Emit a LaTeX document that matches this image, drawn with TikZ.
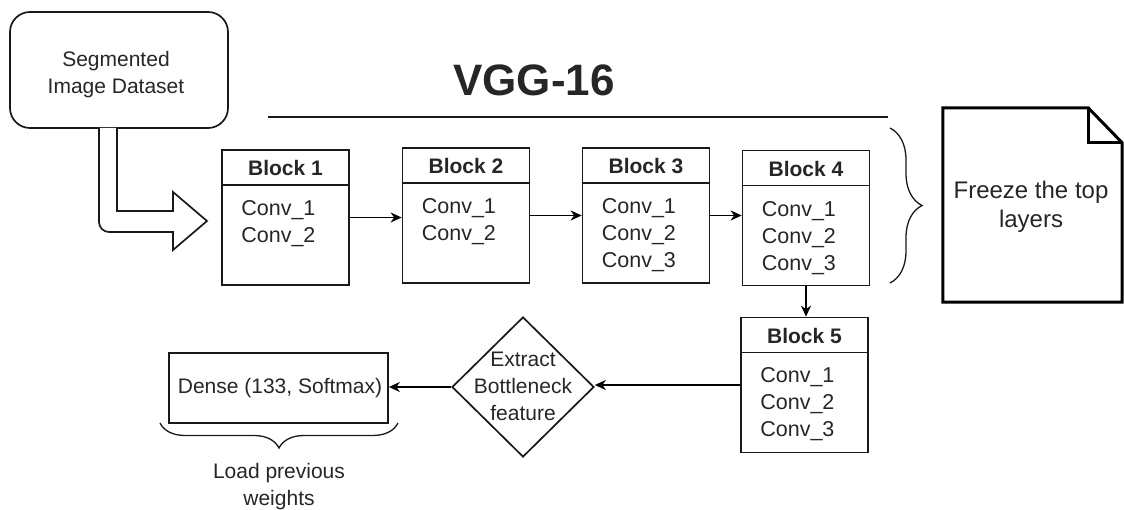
\documentclass[tikz,border=0pt]{standalone}
\usepackage{fontspec}
\setmainfont{Liberation Sans}
\usetikzlibrary{shapes.geometric,arrows.meta,decorations.pathreplacing,calc}

\tikzset{
  every node/.style={text=black!85},
  boxline/.style={draw=black!90, line width=1.7pt},
  blk/.style={boxline, rectangle, inner sep=0pt, minimum width=127pt, minimum height=135pt},
  blktitle/.style={font=\bfseries\fontsize{21}{25}\selectfont, inner sep=0pt},
  conv/.style={font=\fontsize{21.5}{25}\selectfont, inner sep=0pt, anchor=west},
  body/.style={font=\fontsize{21}{27}\selectfont, align=center, inner sep=0pt},
  arr/.style={draw=black, line width=1.7pt, -{Stealth[length=11pt,width=10pt,inset=3.5pt]}},
  curly/.style={draw=black!90, line width=1.3pt, decorate},
}

\begin{document}
\begin{tikzpicture}[x=1pt,y=-1pt]
\useasboundingbox (0,0) rectangle (1124,510);

% input dataset
\node[boxline, rounded corners=20pt, minimum width=218pt, minimum height=116pt, inner sep=0pt] (ds) at (119,70) {};
\node[body] (dstext) at (116,75) {Segmented\\Image Dataset};

% hollow bent arrow feeding the network
\draw[boxline, fill=white, line join=miter]
  (99,128) -- (99,222) .. controls (99,227.5) and (103.5,232) .. (109,232)
  -- (173,232) -- (173,250) -- (207,221) -- (173,192) -- (173,211)
  -- (117,211) -- (117,128);

% title and rule
\node[font=\bfseries\fontsize{44}{50}\selectfont, inner sep=0pt] (vgg) at (534,80) {VGG-16};
\coordinate (ruleL) at (268,117);
\coordinate (ruleR) at (888,117);
\draw[boxline] (ruleL) -- (ruleR);

% convolution blocks
\node[blk] (b1) at (285.5,217.5) {};
\node[blk] (b2) at (466,215.5) {};
\node[blk] (b3) at (646,215.5) {};
\node[blk] (b4) at (806,218) {};
\node[blk] (b5) at (804.5,385) {};

\foreach \b/\n in {b1/1,b2/2,b3/3,b4/4,b5/5}{
  \draw[boxline] ([yshift=-36pt]\b.north west) -- ([yshift=-36pt]\b.north east);
  \node[blktitle] (\b t) at ([yshift=-19pt]\b.north) {Block \n};
}

\node[conv] (b1c1) at ([xshift=20pt,yshift=-61pt]b1.north west) {Conv\_1};
\node[conv] (b1c2) at ([xshift=20pt,yshift=-88pt]b1.north west) {Conv\_2};

\node[conv] (b2c1) at ([xshift=20pt,yshift=-61pt]b2.north west) {Conv\_1};
\node[conv] (b2c2) at ([xshift=20pt,yshift=-88pt]b2.north west) {Conv\_2};

\node[conv] (b3c1) at ([xshift=20pt,yshift=-61pt]b3.north west) {Conv\_1};
\node[conv] (b3c2) at ([xshift=20pt,yshift=-88pt]b3.north west) {Conv\_2};
\node[conv] (b3c3) at ([xshift=20pt,yshift=-115pt]b3.north west) {Conv\_3};

\node[conv] (b4c1) at ([xshift=20pt,yshift=-61pt]b4.north west) {Conv\_1};
\node[conv] (b4c2) at ([xshift=20pt,yshift=-88pt]b4.north west) {Conv\_2};
\node[conv] (b4c3) at ([xshift=20pt,yshift=-115pt]b4.north west) {Conv\_3};

\node[conv] (b5c1) at ([xshift=20pt,yshift=-60pt]b5.north west) {Conv\_1};
\node[conv] (b5c2) at ([xshift=20pt,yshift=-87pt]b5.north west) {Conv\_2};
\node[conv] (b5c3) at ([xshift=20pt,yshift=-114pt]b5.north west) {Conv\_3};

% bottleneck extraction and classifier
\node[boxline, diamond, aspect=1, inner sep=0pt, minimum width=142pt, minimum height=140pt] (dia) at (523,387) {};
\node[body] (diatext) at (523,386) {Extract\\Bottleneck\\feature};

\node[boxline, rectangle, inner sep=0pt, minimum width=219pt, minimum height=70pt] (dense) at (278.5,388) {};
\node[body] (densetext) at (280,388) {Dense (133, Softmax)};

% flow
\draw[arr] (b1.east) -- (b1.east -| b2.west);
\draw[arr] (b2.east) -- (b2.east -| b3.west);
\draw[arr] (b3.east) -- (b3.east -| b4.west);
\draw[arr] (b4.south) -- (b4.south |- b5.north);
\draw[arr] (b5.west) -- (b5.west -| dia.east);
\draw[arr] (dia.west) -- (dia.west -| dense.east);

% frozen layers note
\coordinate (brT) at (890,128);
\coordinate (brB) at (890,283);
\draw[curly, decoration={brace, amplitude=32pt}] (brT) -- (brB);

\node[inner sep=0pt, minimum width=179pt, minimum height=194pt] (doc) at (1032.5,205) {};
\draw[draw=black, line width=3pt, line join=miter, fill=white]
  (doc.north west) -- ([xshift=-34pt]doc.north east) -- ([yshift=-35pt]doc.north east)
  -- (doc.south east) -- (doc.south west) -- cycle;
\draw[draw=black, line width=3pt, line join=miter]
  ([xshift=-34pt]doc.north east) -- ([xshift=-34pt,yshift=-35pt]doc.north east) -- ([yshift=-35pt]doc.north east);
\node[body, font=\fontsize{24}{29}\selectfont] (doctext) at (1031,207) {Freeze the top\\layers};

% weights note
\coordinate (wbL) at (160,423);
\coordinate (wbR) at (398,423);
\draw[curly, decoration={brace, amplitude=25pt}] (wbR) -- (wbL);
\node[body] (wtext) at (279,486.5) {Load previous\\weights};

\end{tikzpicture}
\end{document}
